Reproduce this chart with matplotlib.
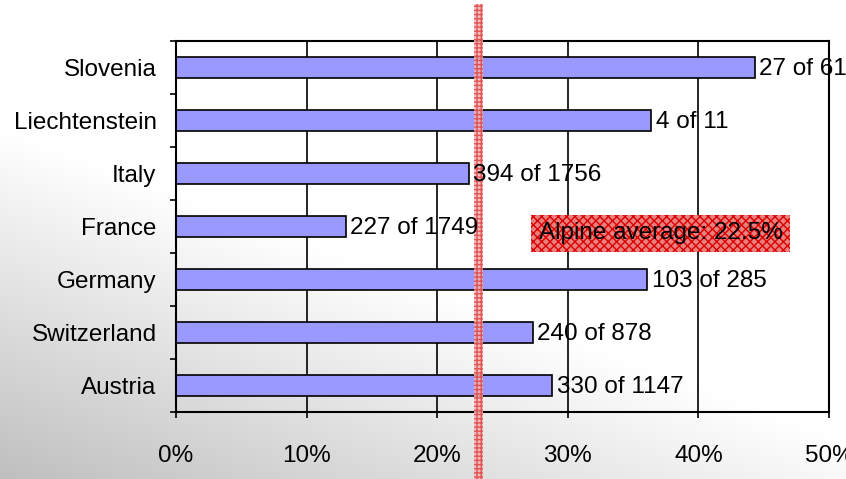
import matplotlib
matplotlib.use('Agg')
import matplotlib.pyplot as plt
from matplotlib.patches import Rectangle
import matplotlib.transforms as mtransforms
import numpy as np

plt.rcParams['font.family'] = ['Liberation Sans', 'DejaVu Sans']
plt.rcParams['hatch.linewidth'] = 1.0

# # data, bottom to top
countries = ['Austria', 'Switzerland', 'Germany', 'France', 'Italy', 'Liechtenstein', 'Slovenia']
share = [28.8, 27.3, 36.1, 13.0, 22.4, 36.4, 44.3]
labels = ['330 of 1147', '240 of 878', '103 of 285', '227 of 1749', '394 of 1756', '4 of 11', '27 of 61']
alpine_avg = 23.15
avg_text = 'Alpine average: 22.5%'
xticks = [0, 10, 20, 30, 40, 50]

fs = 17.5

fig = plt.figure(figsize=(8.46, 4.79), dpi=100)

# # background gradient (grey bottom-left -> white), row 0 = bottom
bg = fig.add_axes([0, 0, 1, 1], zorder=-10)
u, v = np.meshgrid(np.linspace(0, 1, 400), np.linspace(0, 1, 240))
g = 0.75 + 0.25*np.clip(0.9*u + 1.37*v, 0, 1)
rgb = np.dstack([g, g, g])
bg.imshow(rgb, origin='lower', aspect='auto', extent=[0, 1, 0, 1], interpolation='bilinear')
bg.set_xlim(0, 1)
bg.set_ylim(0, 1)
bg.axis('off')

ax = fig.add_axes([176/846, (479-412)/479, (829-176)/846, (412-41)/479])
ax.set_facecolor('none')

y = np.arange(len(countries))
ax.barh(y, share, height=0.40, color='#9999ff', edgecolor='black', linewidth=1.2, zorder=3)
for yi, s, lab in zip(y, share, labels):
    ax.text(s + 0.35, yi - 0.03, lab, va='center', ha='left', fontsize=fs, zorder=6)

ax.set_xlim(0, 50)
ax.set_ylim(-0.5, len(countries) - 0.5)
ax.set_xticks(xticks)
ax.set_xticklabels(['%d%%' % t for t in xticks], fontsize=fs)
ax.set_yticks(y)
ax.set_yticklabels(countries, fontsize=fs)
ax.set_yticks(np.arange(-0.5, len(countries), 1.0), minor=True)
ax.tick_params(axis='y', which='major', length=0, pad=14)
ax.tick_params(axis='y', which='minor', length=4.5, width=1.2, direction='out')
ax.tick_params(axis='x', length=4.5, width=1.2, direction='out', pad=19)
ax.grid(axis='x', color='black', linewidth=1.2, zorder=1)
for sp in ax.spines.values():
    sp.set_linewidth(1.5)
    sp.set_zorder(4)

# # average line, extends past the axes
trans = mtransforms.blended_transform_factory(ax.transData, ax.transAxes)
ax.add_patch(Rectangle((alpine_avg - 0.34, -0.2), 0.68, 1.3, transform=trans, clip_on=False,
                       facecolor='#f4b4b4', edgecolor='#dd4444', hatch='++++', linewidth=0,
                       alpha=0.85, zorder=5))

ax.text(37.1, 2.87, avg_text, ha='center', va='center', fontsize=fs, zorder=7,
        bbox=dict(boxstyle='square,pad=0.3', facecolor='#e88080', edgecolor='#d00',
                  hatch='xxxx', linewidth=0))

fig.savefig('out.png', dpi=100)
